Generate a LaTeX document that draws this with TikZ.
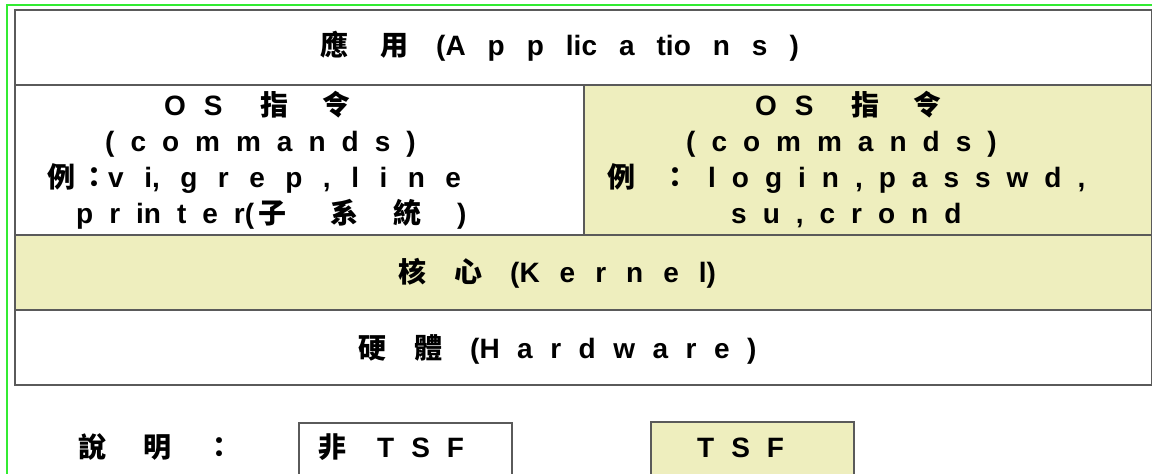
\documentclass[tikz,border=0pt]{standalone}
\usepackage{fontspec}
\setmainfont{Liberation Sans}
\newfontfamily\cjk{Noto Sans CJK TC}
% Chinese glyphs, bold
\newcommand\zh[1]{{\cjk\bfseries #1}}
% width of an inter-letter space
\newcommand\gaps[1]{\spaceskip=#1pt\relax}
% fixed gap
\newcommand\hs[1]{\hspace*{#1pt}}
\definecolor{tsffill}{RGB}{238,238,190}
\definecolor{edge}{RGB}{90,90,90}
\definecolor{frame}{RGB}{50,235,50}
\tikzset{
  cell/.style={draw=edge, line width=1.5pt, inner sep=0pt, anchor=north west},
  tsf/.style={cell, fill=tsffill},
  caption/.style={font=\fontsize{28}{36}\selectfont\bfseries, inner sep=0pt, anchor=base west},
}
\begin{document}
\begin{tikzpicture}[x=1pt, y=-1pt]
  \useasboundingbox (0,0) rectangle (1152,474);
  % page frame (top and left edges)
  \draw[frame, line width=1.6pt] (7,474) -- (7,5) -- (1152,5);
  % layered structure
  \node[cell, minimum width=1137pt, minimum height=75pt]  (app)  at (14,9)   {};
  \node[cell, minimum width=569pt,  minimum height=150pt] (osl)  at (14,84)  {};
  \node[tsf,  minimum width=568pt,  minimum height=150pt] (osr)  at (583,84) {};
  \node[tsf,  minimum width=1137pt, minimum height=75pt]  (kern) at (14,234) {};
  \node[cell, minimum width=1137pt, minimum height=75pt]  (hw)   at (14,309) {};
  % legend boxes
  \node[cell, minimum width=213pt, minimum height=60pt] (legn) at (298,422) {};
  \node[tsf,  minimum width=203pt, minimum height=60pt] (legt) at (650,421) {};
  % layer captions
  \node[caption] (apptext) at (320,55)
    {\gaps{22}\zh{應}\hs{32}\zh{用}\hs{28}(A p p lic a tio n s )};
  \node[caption] (osl1) at (164,115) {\gaps{18}O S\hs{38}\zh{指}\hs{34}\zh{令}};
  \node[caption] (osl2) at (105,151) {\gaps{16}( c o m m a n d s )};
  \node[caption] (osl3) at (47,187)  {\gaps{20.5}\zh{例}\hs{5}\zh{：}v i, g r e p , l i n e};
  \node[caption] (osl4) at (76,223)  {\gaps{16}p r in t e r(\hs{4}\zh{子}\hs{44}\zh{系}\hs{35}\zh{統}\hs{36})};
  \node[caption] (osr1) at (755,115) {\gaps{18}O S\hs{38}\zh{指}\hs{34}\zh{令}};
  \node[caption] (osr2) at (686,151) {\gaps{16}( c o m m a n d s )};
  \node[caption] (osr3) at (607,187) {\gaps{16}\zh{例}\hs{26}\zh{：}\hs{19}l o g i n , p a s s w d ,};
  \node[caption] (osr4) at (731,223) {\gaps{16}s u , c r o n d};
  \node[caption] (kerntext) at (398,282) {\gaps{20}\zh{核}\hs{28}\zh{心}\hs{28}(K e r n e l)};
  \node[caption] (hwtext) at (358,358) {\gaps{17.5}\zh{硬}\hs{28}\zh{體}\hs{28}(H a r d w a r e )};
  % legend texts
  \node[caption] (legtitle) at (78,457) {\zh{說}\hs{37}\zh{明}\hs{34}\zh{：}};
  \node[caption] (legntext) at (318,457) {\gaps{17}\zh{非}\hs{31}T S F};
  \node[caption] (legttext) at (697,457) {\gaps{17}T S F};
\end{tikzpicture}
\end{document}
